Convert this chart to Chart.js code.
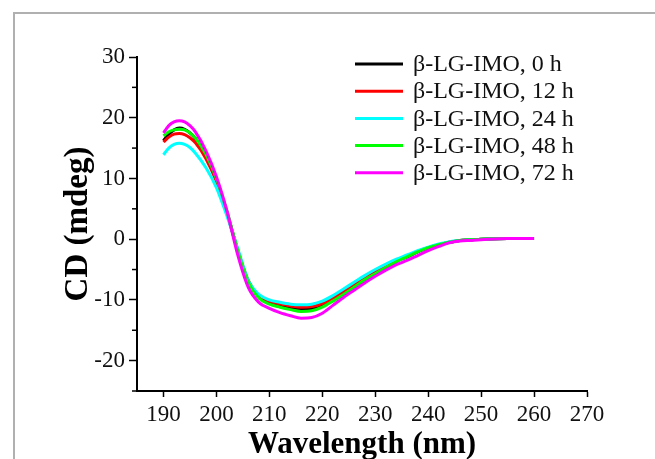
<!DOCTYPE html>
<html><head><meta charset="utf-8">
<script src="https://cdn.jsdelivr.net/npm/chart.js@4"></script>
<style>
html,body{margin:0;padding:0;background:#fff;}
#wrap{position:relative;width:655px;height:459px;overflow:hidden;background:#fff;}
#frame{position:absolute;left:13px;top:12px;width:700px;height:500px;border-top:2px solid #b0b0b0;border-left:2px solid #b0b0b0;}
canvas{position:absolute;left:0;top:0;}
</style></head><body>
<div id="wrap"><div id="frame"></div><canvas id="c" width="655" height="459" style="width:655px;height:459px"></canvas></div>
<script>
const wavelengths = [190,191,192,193,194,195,196,198,200,202,204,206,208,210,212,214,216,218,220,222,224,226,228,230,232,234,236,238,240,242,244,246,248,250,255,260];
const seriesLabels = ["β-LG-IMO, 0 h","β-LG-IMO, 12 h","β-LG-IMO, 24 h","β-LG-IMO, 48 h","β-LG-IMO, 72 h"];
const cd0h  = [16.2,17.3,18.0,18.3,18.1,17.5,16.6,13.8,9.8,4.4,-1.8,-7.0,-9.5,-10.4,-10.9,-11.3,-11.5,-11.4,-10.9,-9.9,-8.8,-7.6,-6.5,-5.5,-4.5,-3.6,-2.9,-2.1,-1.4,-0.9,-0.5,-0.2,-0.1,0,0.1,0.1];
const cd12h = [16.0,16.8,17.3,17.4,17.2,16.7,15.9,13.3,9.5,4.2,-1.7,-6.8,-9.3,-10.2,-10.7,-11.0,-11.2,-11.1,-10.6,-9.7,-8.6,-7.4,-6.3,-5.3,-4.4,-3.5,-2.8,-2.0,-1.4,-0.9,-0.5,-0.2,-0.1,0,0.1,0.1];
const cd24h = [13.9,15.0,15.6,15.8,15.6,15.1,14.2,11.8,8.5,3.8,-1.5,-6.8,-9.1,-10.0,-10.4,-10.7,-10.8,-10.7,-10.2,-9.3,-8.2,-7.1,-6.0,-5.0,-4.1,-3.3,-2.6,-1.9,-1.3,-0.8,-0.4,-0.2,-0.1,0,0.1,0.1];
const cd48h = [17.0,17.7,18.0,18.1,18.0,17.5,16.7,14.0,10.0,4.6,-1.8,-7.1,-9.7,-10.7,-11.2,-11.6,-11.9,-11.8,-11.2,-10.2,-9.1,-7.9,-6.7,-5.7,-4.7,-3.7,-2.9,-2.1,-1.4,-0.9,-0.5,-0.2,-0.1,0,0.1,0.1];
const cd72h = [17.5,18.7,19.3,19.5,19.3,18.7,17.7,14.6,10.3,4.6,-2.5,-7.9,-10.4,-11.4,-12.1,-12.6,-13.0,-12.9,-12.2,-10.9,-9.6,-8.4,-7.2,-6.1,-5.1,-4.2,-3.5,-2.7,-1.9,-1.2,-0.6,-0.3,-0.2,-0.1,0.1,0.1];
const seriesValues = [cd0h, cd12h, cd24h, cd48h, cd72h];
const seriesColors = ["#000000","#ff0000","#00ffff","#00ff00","#ff00ff"];
const drawOrder = [4,3,2,1,0];
const xTicks = [190,200,210,220,230,240,250,260,270];
const yTicks = [-20,-10,0,10,20,30];

const SERIF = '"Liberation Serif","DejaVu Serif",serif';

const datasets = seriesValues.map((vals,i)=>({
  label: seriesLabels[i],
  data: wavelengths.map((w,j)=>({x:w,y:vals[j]})),
  borderColor: seriesColors[i],
  backgroundColor: seriesColors[i],
  borderWidth: 3,
  pointRadius: 0,
  fill: false,
  cubicInterpolationMode: 'monotone',
  order: drawOrder[i]
}));

const extras = {
  id: 'extras',
  afterDraw(chart){
    const ctx = chart.ctx;
    const ys = chart.scales.y;
    const ca = chart.chartArea;
    ctx.save();
    ctx.strokeStyle = '#000';
    ctx.lineWidth = 1.5;
    for (let v = -25; v <= 30; v += 5) {
      if (v % 10 === 0) continue;
      const p = ys.getPixelForValue(v);
      ctx.beginPath(); ctx.moveTo(ca.left - 5, p); ctx.lineTo(ca.left, p); ctx.stroke();
    }
    const lx = ca.right - 232, ly = ca.top + 7, step = 27.2;
    chart.data.datasets.forEach((ds,i)=>{
      const y = ly + i*step;
      ctx.strokeStyle = ds.borderColor;
      ctx.lineWidth = 3;
      ctx.beginPath(); ctx.moveTo(lx, y); ctx.lineTo(lx + 48, y); ctx.stroke();
      ctx.fillStyle = '#111';
      ctx.font = '24px ' + SERIF;
      ctx.textBaseline = 'middle';
      ctx.textAlign = 'left';
      ctx.fillText(ds.label, lx + 58, y + 1);
    });
    ctx.restore();
  }
};

new Chart(document.getElementById('c'), {
  type: 'line',
  data: { datasets },
  options: {
    responsive: false,
    animation: false,
    devicePixelRatio: 1,
    layout: { padding: { top: 57, right: 68, bottom: 0, left: 0 } },
    plugins: { legend: { display: false }, tooltip: { enabled: false } },
    scales: {
      x: {
        type: 'linear', min: 185, max: 270,
        afterFit(s){ s.height = 68; },
        afterBuildTicks(s){ s.ticks = xTicks.map(v=>({value:v})); },
        grid: { drawOnChartArea: false, drawTicks: true, tickLength: 6, tickWidth: 1.5, tickColor: '#000' },
        border: { display: true, color: '#000', width: 2 },
        ticks: { color: '#111', font: { family: SERIF, size: 23 }, padding: 4, maxRotation: 0, autoSkip: false },
        title: { display: true, text: 'Wavelength (nm)', color: '#000', font: { family: SERIF, size: 31, weight: 'bold' }, padding: { top: 0, bottom: -5 } }
      },
      y: {
        type: 'linear', min: -25, max: 30,
        afterFit(s){ s.width = 137; },
        afterBuildTicks(s){ s.ticks = yTicks.map(v=>({value:v})); },
        grid: { drawOnChartArea: false, drawTicks: true, tickLength: 8, tickWidth: 1.5, tickColor: '#000' },
        border: { display: true, color: '#000', width: 2 },
        ticks: { color: '#111', font: { family: SERIF, size: 23 }, padding: 4, autoSkip: false },
        title: { display: true, text: 'CD (mdeg)', color: '#000', font: { family: SERIF, size: 33, weight: 'bold' }, padding: { top: 59, bottom: 0 } }
      }
    }
  },
  plugins: [extras]
});
</script>
</body></html>
